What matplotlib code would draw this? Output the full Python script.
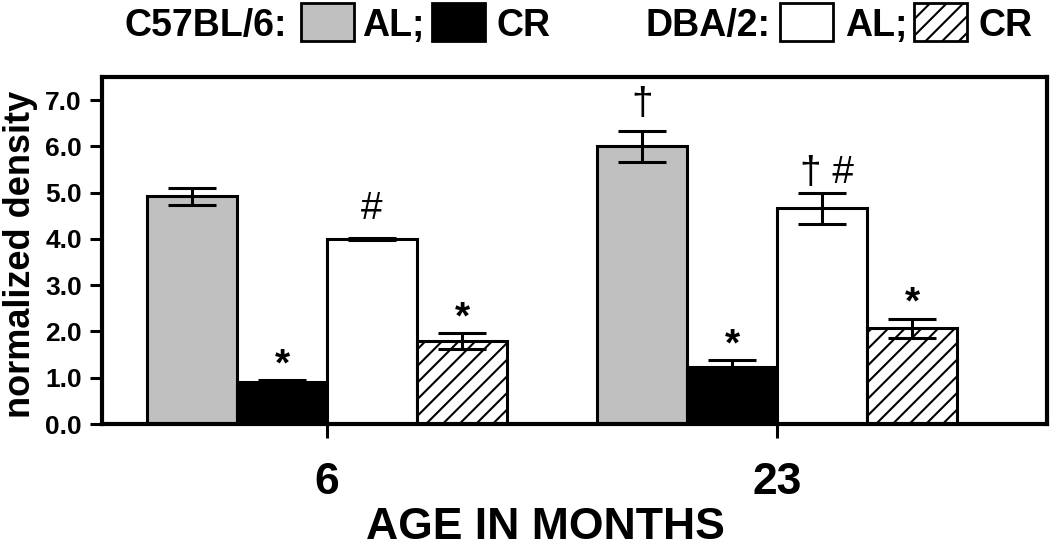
import numpy as np
import matplotlib
matplotlib.use('Agg')
import matplotlib.pyplot as plt
from matplotlib.patches import Rectangle

plt.rcParams['font.family'] = ['Liberation Sans', 'DejaVu Sans']
plt.rcParams['hatch.linewidth'] = 1.5

# 数据
ages = ['6', '23']
b6_al = [4.92, 6.00]
b6_al_err = [0.18, 0.33]
b6_cr = [0.90, 1.24]
b6_cr_err = [0.05, 0.15]
dba_al = [3.99, 4.66]
dba_al_err = [0.02, 0.33]
dba_cr = [1.79, 2.07]
dba_cr_err = [0.17, 0.21]
b6_al_marks = ['', '†']
b6_cr_marks = ['*', '*']
dba_al_marks = ['#', '† #']
dba_cr_marks = ['*', '*']

W, H = 1050, 550
fig = plt.figure(figsize=(W / 100, H / 100), dpi=100)
ax = fig.add_axes([102 / W, 1 - 424 / H, (1047 - 102) / W, (424 - 77) / H])

x = np.arange(len(ages))
width = 0.2
series = [
    (b6_al, b6_al_err, b6_al_marks, '#c0c0c0', ''),
    (b6_cr, b6_cr_err, b6_cr_marks, 'black', ''),
    (dba_al, dba_al_err, dba_al_marks, 'white', ''),
    (dba_cr, dba_cr_err, dba_cr_marks, 'white', '//'),
]
# 标记文字到误差线顶端的距离（基线）
mark_gap = {'*': 0.10, '#': 0.42, '†': 0.38, '† #': 0.22}
for i, (vals, errs, marks, color, hatch) in enumerate(series):
    pos = x + (i - 1.5) * width
    ax.bar(pos, vals, width, color=color, edgecolor='black', linewidth=2.2,
           hatch=hatch, zorder=2)
    ax.errorbar(pos, vals, yerr=errs, fmt='none', ecolor='black',
                elinewidth=2.2, capsize=17, capthick=2.2, zorder=3)
    # 显著性标记
    for p, v, e, m in zip(pos, vals, errs, marks):
        if m:
            ax.text(p + (0.01 if m == '† #' else 0), v + e + mark_gap[m], m,
                    ha='center', va='baseline', fontsize=28,
                    fontweight='bold' if m == '*' else 'normal')

ax.set_xlim(-0.5, 1.6)
ax.set_ylim(0, 7.5)
ax.set_xticks(x)
ax.set_xticklabels(ages, fontsize=32, fontweight='bold')
ax.set_yticks(np.arange(0, 8))
ax.set_yticklabels([f'{v:.1f}' for v in np.arange(0, 8)], fontsize=19,
                   fontweight='bold')
ax.tick_params(axis='y', direction='out', length=8.5, width=2.2, pad=6)
ax.tick_params(axis='x', direction='out', length=10, width=2.2, pad=17)
for s in ax.spines.values():
    s.set_linewidth(3)

ax.set_xlabel('AGE IN MONTHS', fontsize=32, fontweight='bold', va='baseline')
ax.xaxis.set_label_coords(0.469, -(539 - 424) / 347)
ax.set_ylabel('normalized density', fontsize=26, fontweight='bold')
ax.yaxis.set_label_coords(-0.068, 0.49)

# 图例（手动绘制）
def fx(px):
    return px / W

def fy(py):
    return 1 - py / H

for txt, left in [('C57BL/6:', 124), ('AL;', 362), ('CR', 496),
                  ('DBA/2:', 646), ('AL;', 845), ('CR', 978)]:
    fig.text(fx(left), fy(36), txt, fontsize=27, fontweight='bold',
             ha='left', va='baseline')
for left, color, hatch in [(301, '#c0c0c0', ''), (432, 'black', ''),
                           (780, 'white', ''), (914, 'white', '//')]:
    fig.add_artist(Rectangle((fx(left), fy(41)), fx(53), 38 / H,
                             transform=fig.transFigure, facecolor=color,
                             edgecolor='black', linewidth=2, hatch=hatch))

fig.savefig('out.png', dpi=100)
